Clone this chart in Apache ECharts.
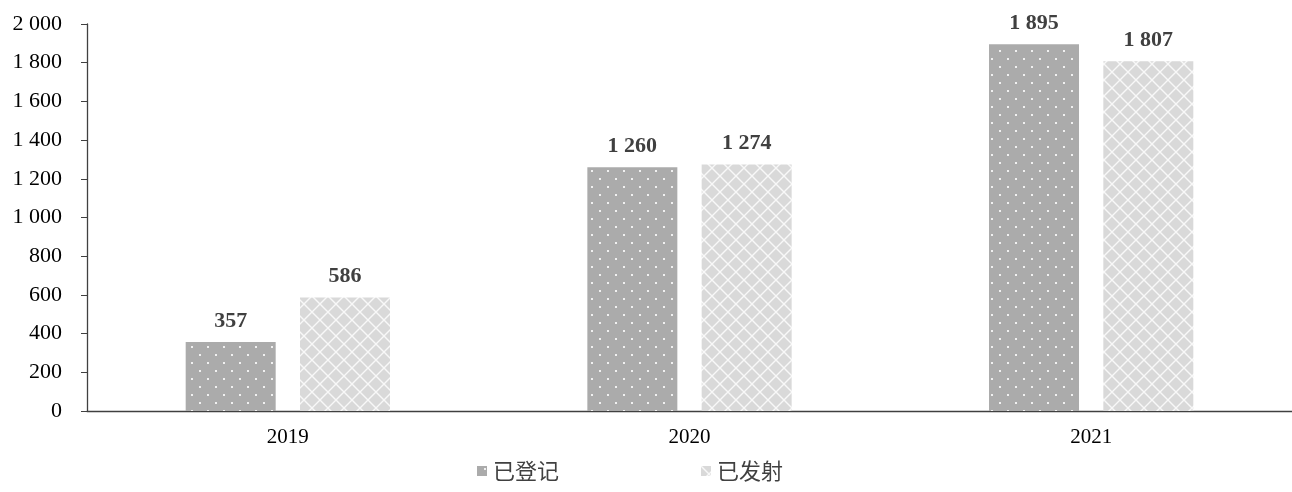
<!DOCTYPE html>
<html><head><meta charset="utf-8">
<script src="https://cdn.jsdelivr.net/npm/echarts@6/dist/echarts.min.js"></script>
<style>html,body{margin:0;padding:0;background:#fff}#c{width:1292px;height:492px}</style>
</head><body><div id="c"></div>
<script>
var categories = ['2019', '2020', '2021'];
var registered = [357, 1260, 1895];
var launched = [586, 1274, 1807];
var seriesNames = ['已登记', '已发射'];

function fmt(v){ return String(v).replace(/\B(?=(\d{3})+(?!\d))/g, ' '); }

function dotPattern(){
  var c = document.createElement('canvas'); c.width = 16; c.height = 16;
  var g = c.getContext('2d');
  g.fillStyle = '#ABABAB'; g.fillRect(0,0,16,16);
  g.fillStyle = '#F0F0F0';
  g.fillRect(7,2,2,2);
  g.fillRect(15,10,1,2);
  g.fillRect(0,10,1,2);
  return c;
}
function diamondPattern(){
  var s = 16;
  var c = document.createElement('canvas'); c.width = s; c.height = s;
  var g = c.getContext('2d');
  g.fillStyle = '#D9D9D9'; g.fillRect(0,0,s,s);
  g.strokeStyle = '#F8F8F8'; g.lineWidth = 1.4;
  g.beginPath();
  g.moveTo(0,0); g.lineTo(s,s);
  g.moveTo(s,0); g.lineTo(0,s);
  g.stroke();
  return c;
}
var p1 = {image: dotPattern(), repeat: 'repeat'};
var p2 = {image: diamondPattern(), repeat: 'repeat'};

var serif = '"Liberation Serif","Times New Roman",serif';
var chart = echarts.init(document.getElementById('c'));
var labelStyle = {show: true, position: 'top', distance: 10, formatter: function(p){return fmt(p.value);},
  fontFamily: serif, fontWeight: 'bold', fontSize: 22, color: '#404040'};
chart.setOption({
  animation: false,
  grid: {left: 87, right: 0, top: 24, bottom: 81},
  legend: {top: 455, left: 472, itemWidth: 10, itemHeight: 10, itemGap: 142,
    textStyle: {fontFamily: '"Noto Sans CJK SC",sans-serif', fontSize: 22, color: '#404040', padding: [0,0,0,1]},
    data: [{name: seriesNames[0], icon: 'rect'}, {name: seriesNames[1], icon: 'rect'}]},
  xAxis: {type: 'category', data: categories,
    axisLine: {lineStyle: {color: '#404040', width: 1.3}},
    axisTick: {show: false},
    axisLabel: {margin: 16, fontFamily: serif, fontSize: 21, color: '#000'}},
  yAxis: {type: 'value', min: 0, max: 2000, interval: 200,
    axisLine: {show: true, lineStyle: {color: '#404040', width: 1.3}},
    axisTick: {show: true, inside: false, length: 6, lineStyle: {color: '#404040'}},
    splitLine: {show: false},
    axisLabel: {margin: 25, formatter: function(v){return fmt(v);}, fontFamily: serif, fontSize: 22, color: '#000'}},
  series: [
    {name: seriesNames[0], type: 'bar', data: registered, barWidth: 90, barGap: '27%', itemStyle: {color: p1}, label: labelStyle},
    {name: seriesNames[1], type: 'bar', data: launched, barWidth: 90, barGap: '27%', itemStyle: {color: p2}, label: labelStyle}
  ]
});
</script></body></html>
